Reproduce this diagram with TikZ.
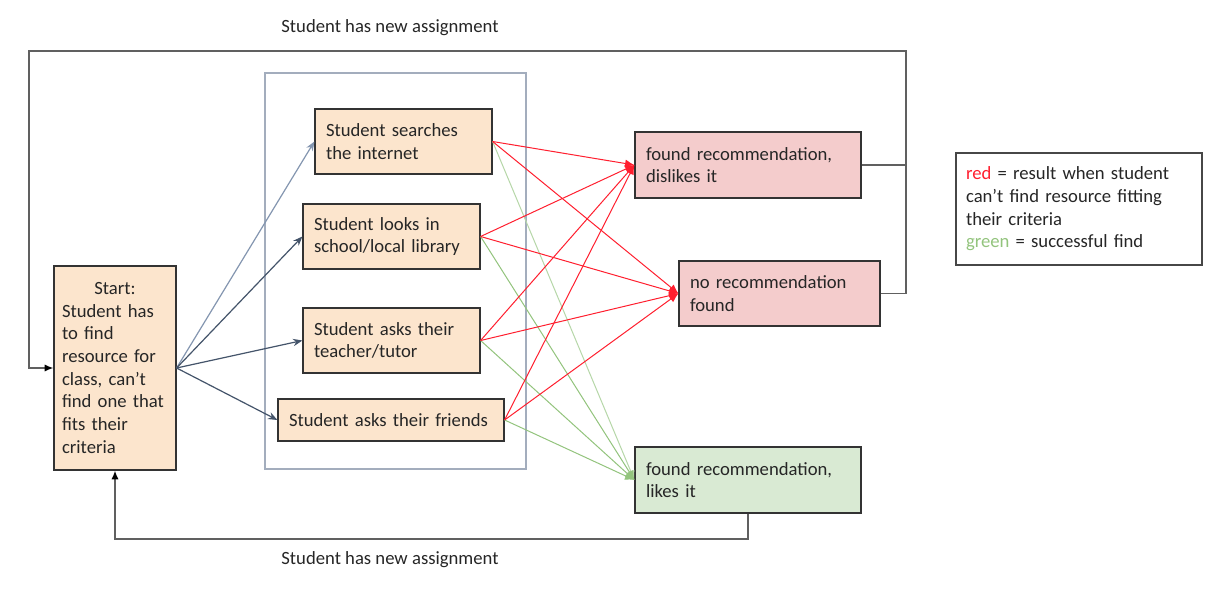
\documentclass[tikz,border=0pt]{standalone}
\usepackage{fontspec}
\setmainfont{Carlito}
\usetikzlibrary{arrows.meta}
\definecolor{peach}{HTML}{FCE5CD}
\definecolor{pinkf}{HTML}{F4CCCC}
\definecolor{greenf}{HTML}{D9EAD3}
\definecolor{redl}{HTML}{FF1F2F}
\definecolor{greenl}{HTML}{93C47D}
\definecolor{greenll}{HTML}{B6D7A8}
\definecolor{slated}{HTML}{44546A}
\definecolor{slatel}{HTML}{8496B0}
\definecolor{groupc}{HTML}{A3ADBD}
\definecolor{loopc}{HTML}{606060}
\definecolor{txt}{HTML}{262626}
\definecolor{bordc}{HTML}{333333}
\tikzset{
  box/.style={draw=bordc, line width=0.9pt, inner sep=0pt, align=left, text=txt,
    font=\fontsize{14}{17}\selectfont},
  startarr/.style={draw=slated, line width=0.9pt, -{Stealth[length=7pt,width=5.5pt]}},
  redarr/.style={draw=redl, line width=0.75pt, -{Latex[length=7pt,width=6pt]}},
  grnarr/.style={draw=greenl, line width=0.75pt, -{Latex[length=7pt,width=6pt]}},
  loopline/.style={draw=loopc, line width=1.2pt},
  looptip/.style={-{Latex[length=6.5pt,width=5.5pt,fill=black,color=black]}},
  lbl/.style={text=txt, font=\fontsize{14}{17}\selectfont, inner sep=0pt},
}
\begin{document}
\begin{tikzpicture}[x=0.75pt,y=-0.75pt]
\useasboundingbox[fill=white] (0,0) rectangle (1229,595);
% group frame
\draw[groupc, line width=1.5pt] (265,73) rectangle (526,469);
% nodes
\node[box, fill=peach, minimum width=122*0.75pt, minimum height=204*0.75pt, text width=106*0.75pt] (start) at (115,368)
  {\makebox[\linewidth]{Start:}\\Student has\\to find\\resource for\\class, can’t\\find one that\\fits their\\criteria};
\node[box, fill=peach, minimum width=177*0.75pt, minimum height=65*0.75pt, text width=155*0.75pt] (search) at (403.5,141.5)
  {Student searches\\the internet};
\node[box, fill=peach, minimum width=177*0.75pt, minimum height=65*0.75pt, text width=155*0.75pt] (library) at (391.5,236.5)
  {Student looks in\\school/local library};
\node[box, fill=peach, minimum width=177*0.75pt, minimum height=65*0.75pt, text width=155*0.75pt] (teacher) at (391.5,340.5)
  {Student asks their\\teacher/tutor};
\node[box, fill=peach, minimum width=226*0.75pt, minimum height=42*0.75pt, text width=204*0.75pt] (friends) at (391,420)
  {Student asks their friends};
\node[box, fill=pinkf, minimum width=226*0.75pt, minimum height=66*0.75pt, text width=204*0.75pt] (dislike) at (748,165)
  {found recommendation,\\dislikes it};
\node[box, fill=pinkf, minimum width=201*0.75pt, minimum height=65*0.75pt, text width=179*0.75pt] (norec) at (779.5,293.5)
  {no recommendation\\found};
\node[box, fill=greenf, minimum width=226*0.75pt, minimum height=66*0.75pt, text width=204*0.75pt] (likes) at (748,480)
  {found recommendation,\\likes it};
\node[box, draw=bordc!90, minimum width=246*0.75pt, minimum height=112*0.75pt, text width=226*0.75pt] (legend) at (1079,209)
  {\textcolor{redl}{red} = result when student\\can’t find resource fitting\\their criteria\\\textcolor{greenl}{green} = successful find};
% labels
\node[lbl] (toplbl) at (390,28) {Student has new assignment};
\node[lbl] (botlbl) at (390,560) {Student has new assignment};
% start arrows
\draw[startarr, draw=slatel] (start.east) -- (search.west);
\draw[startarr] (start.east) -- (library.west);
\draw[startarr] (start.east) -- (teacher.west);
\draw[startarr] (start.east) -- (friends.west);
% green arrows
\draw[grnarr, draw=greenll] (search.east) -- (likes.west);
\draw[grnarr] (library.east) -- (likes.west);
\draw[grnarr] (teacher.east) -- (likes.west);
\draw[grnarr] (friends.east) -- (likes.west);
% red arrows
\foreach \s in {search,library,teacher,friends}{
  \draw[redarr] (\s.east) -- (dislike.west);
  \draw[redarr] (\s.east) -- (norec.west);
}
% loops
\coordinate (tr) at (906,51);
\coordinate (tl) at (29,51);
\coordinate (bl) at (115,539);
\draw[loopline] (dislike.east) -- (dislike.east -| tr);
\draw[loopline, looptip] (norec.east) -| (tr) -- (tl) |- (start.west);
\draw[loopline, looptip] (likes.south) |- (bl) -- (start.south);
\end{tikzpicture}
\end{document}
